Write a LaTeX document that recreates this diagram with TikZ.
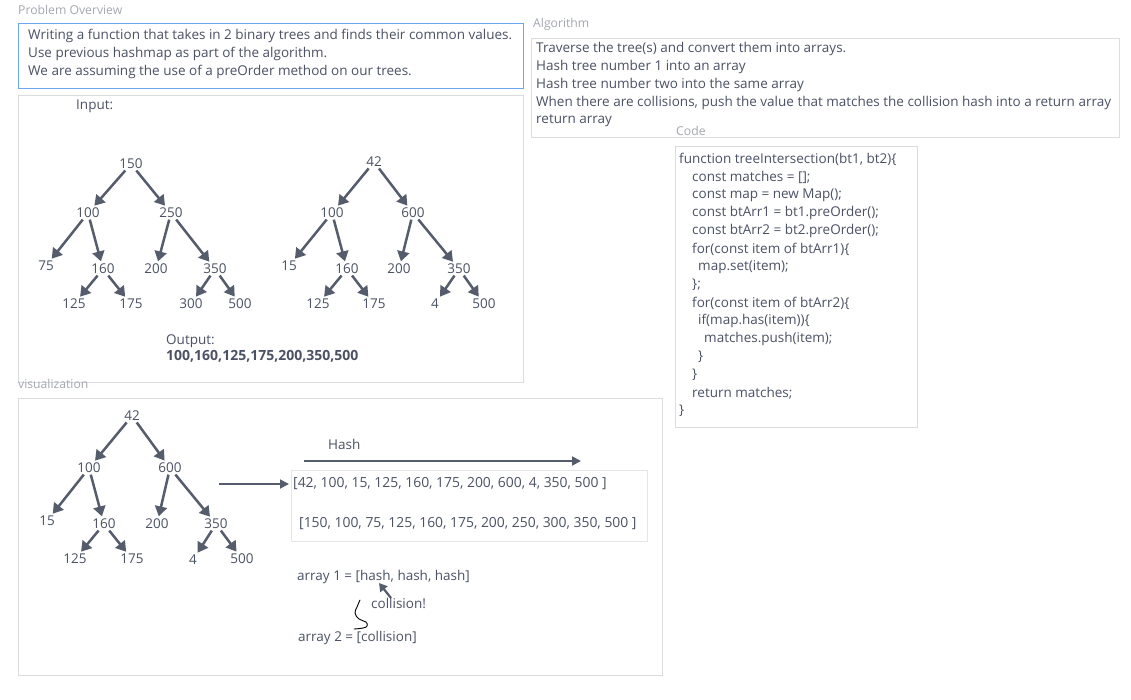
\documentclass[tikz,border=0pt]{standalone}
\usepackage{fontspec}
\setmainfont{Open Sans}
\usetikzlibrary{arrows.meta,shadows}
\definecolor{ink}{HTML}{4B5264}
\definecolor{arr}{HTML}{555C6C}
\definecolor{lblc}{HTML}{A4A8AF}
\definecolor{blueb}{HTML}{6AA6F2}
\definecolor{panelb}{HTML}{DADCE0}
\begin{document}
\begin{tikzpicture}[x=1pt,y=-1pt,
 txt/.style={anchor=west, inner sep=0pt, text=ink, font=\fontsize{13.5}{15}\selectfont},
 lbl/.style={anchor=west, inner sep=0pt, text=lblc, font=\fontsize{12.2}{14}\selectfont},
 num/.style={inner sep=1pt, text=ink, font=\fontsize{13.5}{14}\selectfont},
 tarr/.style={draw=arr, line width=2.5pt, -{Triangle[length=10pt,width=12pt]}, shorten >=1.5pt, shorten <=0.5pt},
 harr/.style={draw=arr, line width=1.8pt, -{Triangle[length=9pt,width=9pt]}},
 panel/.style={draw=panelb, fill=white, line width=0.8pt, anchor=north west, inner sep=0pt, drop shadow={opacity=0.12, shadow xshift=0.6pt, shadow yshift=-1pt}},
 flat/.style={draw=panelb!70, fill=white, line width=0.6pt, anchor=north west, inner sep=0pt},
]
\useasboundingbox[fill=white] (0,0) rectangle (1131,699);

% ---------- panels ----------
\node[panel, minimum width=505pt, minimum height=287pt] (inputbox) at (18,95) {};
\node[draw=blueb, fill=white, line width=0.9pt, anchor=north west, inner sep=0pt, minimum width=505pt, minimum height=65pt] (overview) at (18,23) {};
\node[panel, minimum width=588pt, minimum height=99pt] (algobox) at (531,38) {};
\node[panel, minimum width=242pt, minimum height=281pt] (codebox) at (675,146) {};
\node[panel, minimum width=644pt, minimum height=277pt] (visbox) at (18,398) {};
\node[flat, minimum width=356pt, minimum height=71pt] (arrbox) at (291,470) {};

% ---------- labels ----------
\node[lbl] (lblover) at (18,10) {Problem Overview};
\node[lbl] (lblalgo) at (533,24) {Algorithm};
\node[lbl] (lblcode) at (676,131) {Code};
\node[lbl] (lblvis) at (18,384) {visualization};

% ---------- overview text ----------
\node[txt] (ov1) at (28,36) {Writing a function that takes in 2 binary trees and finds their common values.};
\node[txt] (ov2) at (28,54) {Use previous hashmap as part of the algorithm.};
\node[txt] (ov3) at (28,72) {We are assuming the use of a preOrder method on our trees.};

% ---------- algorithm text ----------
\node[txt] (al1) at (536,49) {Traverse the tree(s) and convert them into arrays.};
\node[txt] (al2) at (536,67) {Hash tree number 1 into an array};
\node[txt] (al3) at (536,85) {Hash tree number two into the same array};
\node[txt] (al4) at (536,103) {When there are collisions, push the value that matches the collision hash into a return array};
\node[txt] (al5) at (536,121) {return array};

% ---------- code ----------
\node[txt] (c1) at (679,159) {function treeIntersection(bt1, bt2)\{};
\node[txt] (c2) at (692,177) {const matches = [];};
\node[txt] (c3) at (692,195) {const map = new Map();};
\node[txt] (c4) at (692,213) {const btArr1 = bt1.preOrder();};
\node[txt] (c5) at (692,231) {const btArr2 = bt2.preOrder();};
\node[txt] (c6) at (692,249) {for(const item of btArr1)\{};
\node[txt] (c7) at (698,267) {map.set(item);};
\node[txt] (c8) at (692,285) {\};};
\node[txt] (c9) at (692,303) {for(const item of btArr2)\{};
\node[txt] (c10) at (698,321) {if(map.has(item))\{};
\node[txt] (c11) at (704,339) {matches.push(item);};
\node[txt] (c12) at (698,357) {\}};
\node[txt] (c13) at (692,375) {\}};
\node[txt] (c14) at (692,393) {return matches;};
\node[txt] (c15) at (679,411) {\}};

% ---------- input ----------
\node[txt] (inlbl) at (76,106) {Input:};
\node[txt] (outlbl) at (166,341) {Output:};
\node[txt, font=\fontsize{14}{15}\selectfont\bfseries] (outval) at (166,356) {100,160,125,175,200,350,500};

% tree 1
\node[num] (a150) at (131,164) {150};
\node[num] (a100) at (88,213) {100};
\node[num] (a250) at (171,213) {250};
\node[num] (a75) at (46,266) {75};
\node[num] (a160) at (103,269) {160};
\node[num] (a200) at (156,269) {200};
\node[num] (a350) at (215,269) {350};
\node[num] (a125) at (74,304) {125};
\node[num] (a175) at (131,304) {175};
\node[num] (a300) at (191,304) {300};
\node[num] (a500) at (240,304) {500};
\draw[tarr] (a150) -- (a100);
\draw[tarr] (a150) -- (a250);
\draw[tarr] (a100) -- (a75);
\draw[tarr] (a100) -- (a160);
\draw[tarr] (a250) -- (a200);
\draw[tarr] (a250) -- (a350);
\draw[tarr] (a160) -- (a125);
\draw[tarr] (a160) -- (a175);
\draw[tarr] (a350) -- (a300);
\draw[tarr] (a350) -- (a500);

% tree 2
\node[num] (b42) at (374,162) {42};
\node[num] (b100) at (332,213) {100};
\node[num] (b600) at (413,213) {600};
\node[num] (b15) at (289,266) {15};
\node[num] (b160) at (347,269) {160};
\node[num] (b200) at (399,269) {200};
\node[num] (b350) at (459,269) {350};
\node[num] (b125) at (318,304) {125};
\node[num] (b175) at (374,304) {175};
\node[num] (b4) at (435,304) {4};
\node[num] (b500) at (484,304) {500};
\draw[tarr] (b42) -- (b100);
\draw[tarr] (b42) -- (b600);
\draw[tarr] (b100) -- (b15);
\draw[tarr] (b100) -- (b160);
\draw[tarr] (b600) -- (b200);
\draw[tarr] (b600) -- (b350);
\draw[tarr] (b160) -- (b125);
\draw[tarr] (b160) -- (b175);
\draw[tarr] (b350) -- (b4);
\draw[tarr] (b350) -- (b500);

% ---------- visualization ----------
\node[num] (c42) at (132,416) {42};
\node[num] (c100) at (89,468) {100};
\node[num] (c600) at (170,468) {600};
\node[num] (c15) at (47,521) {15};
\node[num] (c160) at (104,524) {160};
\node[num] (c200) at (157,524) {200};
\node[num] (c350) at (216,524) {350};
\node[num] (c125) at (75,559) {125};
\node[num] (c175) at (132,559) {175};
\node[num] (c4) at (193,560) {4};
\node[num] (c500) at (242,559) {500};
\draw[tarr] (c42) -- (c100);
\draw[tarr] (c42) -- (c600);
\draw[tarr] (c100) -- (c15);
\draw[tarr] (c100) -- (c160);
\draw[tarr] (c600) -- (c200);
\draw[tarr] (c600) -- (c350);
\draw[tarr] (c160) -- (c125);
\draw[tarr] (c160) -- (c175);
\draw[tarr] (c350) -- (c4);
\draw[tarr] (c350) -- (c500);

\node[txt] (hashlbl) at (328,444) {Hash};
\coordinate (hs) at (304,461);
\coordinate (he) at (581,461);
\draw[harr] (hs) -- (he);

\node[txt, font=\fontsize{13.9}{15}\selectfont] (arr1) at (293,484) {[42, 100, 15, 125, 160, 175, 200, 600, 4, 350, 500 ]};
\node[txt, font=\fontsize{13.9}{15}\selectfont] (arr2) at (299,524) {[150, 100, 75, 125, 160, 175, 200, 250, 300, 350, 500 ]};
\coordinate (vs) at (219,484);
\draw[harr, shorten >=4pt] (vs) -- (arr1.west);

\node[txt] (ar1) at (297,577) {array 1 = [hash, hash, hash]};
\node[txt] (coll) at (371,603) {collision!};
\node[txt] (ar2) at (298,638) {array 2 = [collision]};
\coordinate (ct) at (391,598);
\coordinate (ch) at (379,583);
\draw[draw=arr, line width=2.2pt, -{Triangle[length=8pt,width=9pt]}] (ct) -- (ch);
\draw[black, line width=0.9pt, line cap=round] plot[smooth, tension=0.7] coordinates {(360,600) (357,607) (355,613) (359,619) (366,622) (367,626) (363,628) (354,629)};
\end{tikzpicture}
\end{document}
